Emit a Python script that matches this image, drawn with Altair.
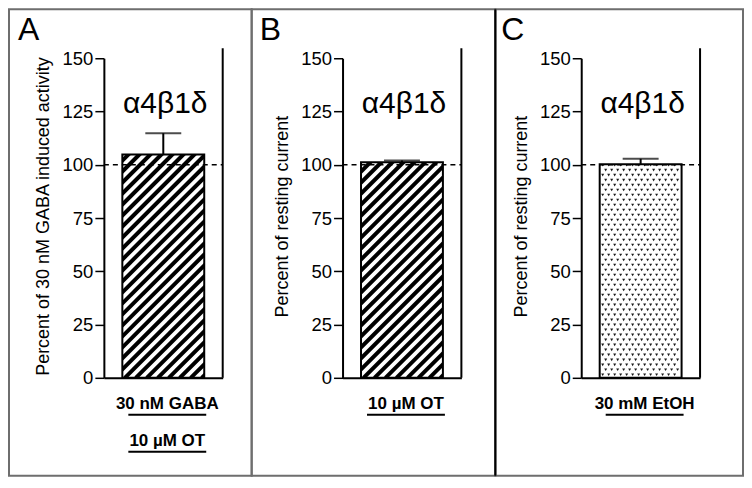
import altair as alt
import pandas as pd

# ---- data ----
panels = ["A", "B", "C"]
conditions = ["30 nM GABA", "10 µM OT", "30 mM EtOH"]
means = [104.8, 101.2, 100.2]
sems = [10.0, 0.8, 2.6]
y_titles = ["Percent of 30 nM  GABA induced activity",
            "Percent of resting current",
            "Percent of resting current"]
receptor = "α4β1δ"
treatment_lines = [["30 nM GABA", "10 µM OT"], ["10 µM OT"], ["30 mM EtOH"]]
fill_styles = ["hatch", "hatch", "dots"]
tick_values = [0, 12.5, 25, 37.5, 50, 62.5, 75, 87.5, 100, 112.5, 125, 137.5, 150]
reference_level = 100

# ---- layout (pixels) ----
W, H = 119, 320
BAR = 82
FONT = "Liberation Sans"
border_x = [(-95, 148), (-91, 153), (-86, 162)]
border_y = (-49, 418)
letter_x = [-86, -83, -80]


def panel(i):
    bl, br = W / 2 - BAR / 2, W / 2 + BAR / 2
    df = pd.DataFrame({"cond": [conditions[i]], "mean": [means[i]], "sem": [sems[i]]})
    base = alt.Chart(df).transform_calculate(upper="datum.mean + datum.sem")

    xaxis = alt.Axis(domain=True, domainColor="black", domainWidth=2, ticks=False,
                     labels=False, title=None, zindex=1)
    xenc = alt.X("cond:N", axis=xaxis, scale=alt.Scale(paddingInner=0, paddingOuter=0))
    yaxis = alt.Axis(values=tick_values,
                     labelExpr="datum.value % 25 === 0 ? datum.label : ''",
                     tickSize={"condition": {"test": "datum.value % 25 === 0", "value": 9}, "value": 5},
                     tickColor="black", tickWidth=1.5, domainColor="black", domainWidth=2,
                     labelFont=FONT, labelFontSize=18.5, labelColor="black", labelPadding=2,
                     title=y_titles[i], titleFont=FONT, titleFontSize=18, titleFontWeight="normal",
                     titleColor="black", titleX=-60, titleY=H / 2 - 2, titleBaseline="middle",
                     titleAngle=270, grid=False, zindex=1)
    yscale = alt.Scale(domain=[0, 150], nice=False, zero=True)

    def Y(f):
        return alt.Y(f, scale=yscale, axis=yaxis)

    layers = []
    layers.append(base.mark_rect(filled=False, color="#6e6e6e", strokeWidth=2).encode(
        x=alt.value(border_x[i][0]), x2=alt.value(border_x[i][1]),
        y=alt.value(border_y[0]), y2=alt.value(border_y[1])))

    if fill_styles[i] == "hatch":
        P = 11
        n = int((W + H) / P) + 3
        pat = alt.Chart(alt.sequence(0, n, as_="k")).transform_calculate(
            xa=f"datum.k*{P}", xb=f"datum.k*{P} - {H}", ya="0", yb=f"{H}"
        ).mark_rule(clip=True, strokeWidth=4, color="black").encode(
            x=alt.X("xa:Q", scale=None, axis=None), x2="xb:Q",
            y=alt.Y("ya:Q", scale=None, axis=None), y2="yb:Q")
    else:
        ncol, nrow = 14, 66
        pat = alt.Chart(alt.sequence(0, ncol * nrow, as_="k")).transform_calculate(
            col=f"datum.k % {ncol}", row=f"floor(datum.k / {ncol})"
        ).transform_calculate(
            px=f"{bl} + 3 + datum.col*6 + (datum.row % 2)*3", py=f"{H} - 3 - datum.row*5"
        ).transform_filter(f"datum.px < {br} - 1 && datum.py > 0").mark_point(
            shape="triangle-down", filled=True, size=9, color="#1a1a1a", opacity=1
        ).encode(x=alt.X("px:Q", scale=None, axis=None), y=alt.Y("py:Q", scale=None, axis=None))
    layers.append(pat)

    # white masks outside the bar
    layers.append(base.mark_rect(color="white").encode(
        x=alt.value(-3), x2=alt.value(W + 3), y=Y("mean:Q"), y2=alt.value(-4)))
    layers.append(base.mark_rect(color="white").encode(
        x=alt.value(-3), x2=alt.value(bl), y=alt.value(-4), y2=alt.value(H + 3)))
    layers.append(base.mark_rect(color="white").encode(
        x=alt.value(br), x2=alt.value(W + 3), y=alt.value(-4), y2=alt.value(H + 3)))

    layers.append(base.mark_bar(size=BAR, fillOpacity=0, stroke="black", strokeWidth=2).encode(
        x=xenc, y=Y("mean:Q")))
    layers.append(base.mark_rule(color="black", strokeWidth=2).encode(
        x=xenc, y=Y("mean:Q"), y2="upper:Q"))
    layers.append(base.mark_tick(color="black", size=36, thickness=2).encode(
        x=xenc, y=Y("upper:Q")))
    layers.append(base.mark_rule(color="black", strokeWidth=1.5, strokeDash=[5, 4]).encode(
        x=alt.value(0), x2=alt.value(W), y=alt.datum(reference_level)))
    layers.append(base.mark_rule(color="black", strokeWidth=2).encode(
        x=alt.value(W), y=alt.value(-10), y2=alt.value(H)))
    layers.append(base.mark_text(text=receptor, font=FONT, fontSize=30, color="black").encode(
        x=alt.value(W / 2 + 2), y=alt.value(46)))
    layers.append(base.mark_text(text=panels[i], font=FONT, fontSize=32, color="black",
                                 align="left", baseline="alphabetic").encode(
        x=alt.value(letter_x[i]), y=alt.value(-18)))

    lab = pd.DataFrame({"text": treatment_lines[i], "idx": list(range(len(treatment_lines[i])))})
    labc = alt.Chart(lab).transform_calculate(ty=f"{H} + 26 + 37*datum.idx",
                                             uy=f"{H} + 37 + 37*datum.idx")
    layers.append(labc.mark_text(font=FONT, fontSize=17, fontWeight="bold", color="black",
                                 baseline="middle").encode(
        x=alt.value(W / 2 + 4), y=alt.Y("ty:Q", scale=None, axis=None), text="text:N"))
    layers.append(labc.mark_rule(color="black", strokeWidth=2).encode(
        x=alt.value(W / 2 + 4 - 39), x2=alt.value(W / 2 + 4 + 39),
        y=alt.Y("uy:Q", scale=None, axis=None)))

    if i == 2:
        layers.append(base.mark_rule(color="black", strokeWidth=2).encode(
            x=alt.value(border_x[i][0]), y=alt.value(border_y[0]), y2=alt.value(border_y[1])))

    return alt.layer(*layers).properties(width=W, height=H)


chart = alt.hconcat(*[panel(i) for i in range(3)], spacing=120, bounds="flush").properties(
    padding=0).configure_view(stroke=None)

chart.save("out.html", embed_options={"renderer": "svg", "actions": False})
